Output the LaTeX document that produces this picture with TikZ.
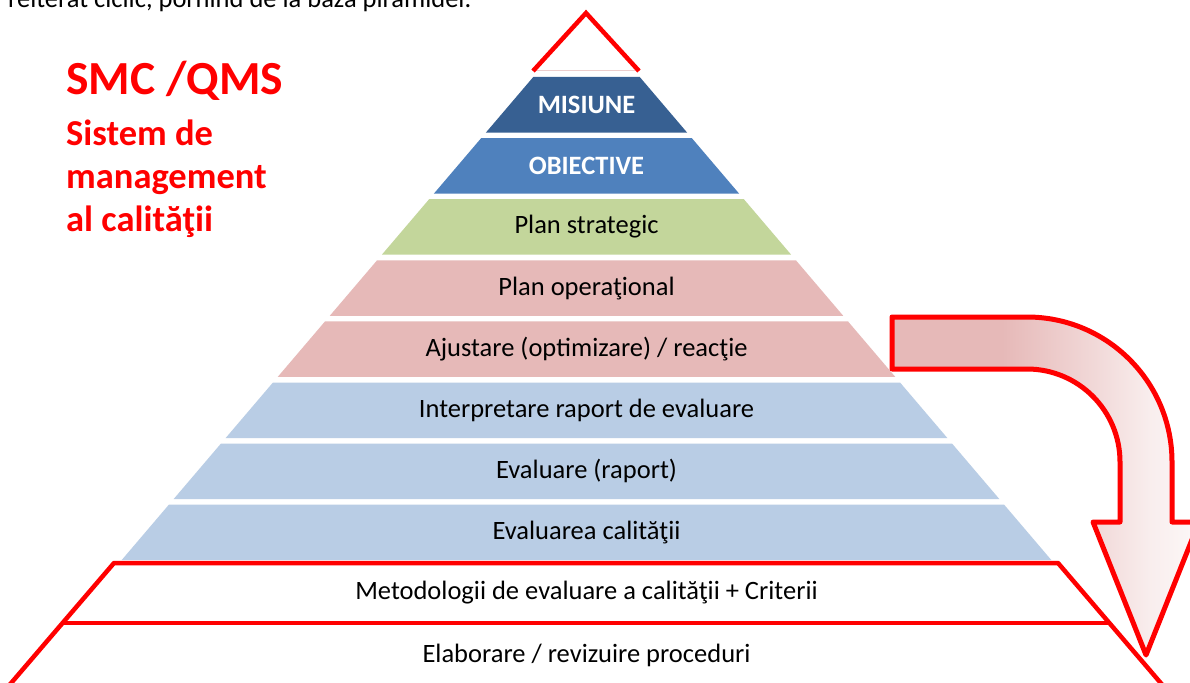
\documentclass[tikz,border=0pt]{standalone}
\usepackage{fontspec}
\setmainfont{Carlito}
\definecolor{misblue}{RGB}{55,96,146}
\definecolor{objblue}{RGB}{79,129,189}
\definecolor{lgreen}{RGB}{195,214,155}
\definecolor{apink}{RGB}{230,185,184}
\definecolor{lblue}{RGB}{185,205,229}
\definecolor{pred}{RGB}{255,0,0}
\pgfdeclarehorizontalshading{arrowshade}{100bp}{color(0bp)=(apink); color(43bp)=(apink); color(58bp)=(apink!55!white); color(67bp)=(apink!25!white); color(75bp)=(apink!10!white); color(100bp)=(apink!5!white)}
\newcommand\pyrlayer[2]{%
  \pgfmathsetmacro\pyYt{77+61.1*(#1-1)}%
  \pgfmathsetmacro\pyYb{\pyYt+55.5}%
  \pgfmathsetmacro\pyHt{0.852*(\pyYt-14.5)}%
  \pgfmathsetmacro\pyHb{0.852*(\pyYb-14.5)}%
  \fill[#2] (586.5-\pyHt,\pyYt) -- (586.5+\pyHt,\pyYt) -- (586.5+\pyHb,\pyYb) -- (586.5-\pyHb,\pyYb) -- cycle;%
}
\begin{document}
\begin{tikzpicture}[x=1pt,y=-1pt,
  lay/.style={font=\fontsize{26.5}{32}\selectfont, text=black, inner sep=0pt},
  capt/.style={font=\fontsize{26.5}{32}\selectfont\bfseries, text=white, inner sep=0pt},
  redline/.style={draw=pred, line width=4.5pt, line join=round},
  ttl/.style={font=\fontsize{36.5}{43}\selectfont\bfseries, text=pred, inner sep=0pt, anchor=base west},
  bigttl/.style={font=\fontsize{47.5}{56}\selectfont\bfseries, text=pred, inner sep=0pt, anchor=base west},
]
\useasboundingbox (0,0) rectangle (1190,682);
\begin{scope}
\clip (0,0) rectangle (1190,682);
\fill[white] (0,0) rectangle (1190,682);
% cut-off line of text at the top
\node[lay, anchor=base west] (toptext) at (8,8) {reiterat ciclic, pornind de la baza piramidei.};
% title
\node[bigttl] (t1) at (66,95) {SMC /QMS};
\node[ttl] (t2) at (66,145) {Sistem de};
\node[ttl] (t3) at (66,188) {management};
\node[ttl] (t4) at (66,231) {al calităţii};
% top triangle
\draw[apink!70!white, line width=1pt] (533,71) -- (639,71);
\draw[redline, line join=miter] (533,71) -- (586,13) -- (639,71);
% pyramid layers
\pyrlayer{1}{misblue}
\pyrlayer{2}{objblue}
\pyrlayer{3}{lgreen}
\pyrlayer{4}{apink}
\pyrlayer{5}{apink}
\pyrlayer{6}{lblue}
\pyrlayer{7}{lblue}
\pyrlayer{8}{lblue}
\node[capt] (L1) at (586.5,104.75) {MISIUNE};
\node[capt] (L2) at (586.5,165.85) {OBIECTIVE};
\node[lay] (L3) at (586.5,226.95) {Plan strategic};
\node[lay] (L4) at (586.5,288.05) {Plan operaţional};
\node[lay] (L5) at (586.5,349.15) {Ajustare (optimizare) / reacţie};
\node[lay] (L6) at (586.5,410.25) {Interpretare raport de evaluare};
\node[lay] (L7) at (586.5,471.35) {Evaluare (raport)};
\node[lay] (L8) at (586.5,532.45) {Evaluarea calităţii};
% red outlined base layers
\draw[redline] (0.9,695) -- (114,563) -- (1058,563) -- (1171,695);
\draw[redline] (62.6,623) -- (1109.4,623);
\node[lay] (L9) at (586.5,593) {Metodologii de evaluare a calităţii + Criterii};
\node[lay] (L10) at (586.5,655) {Elaborare / revizuire proceduri};
% curved arrow
\path[shading=arrowshade, draw=pred, line width=5pt, line join=round]
  (892,317) -- (1027,317) arc[start angle=-90, end angle=0, radius=145]
  -- (1172,522) -- (1199,522) -- (1146,655) -- (1093,522) -- (1120,522)
  -- (1120,462) arc[start angle=0, end angle=-90, radius=93]
  -- (892,369) -- cycle;
\end{scope}
\end{tikzpicture}
\end{document}
